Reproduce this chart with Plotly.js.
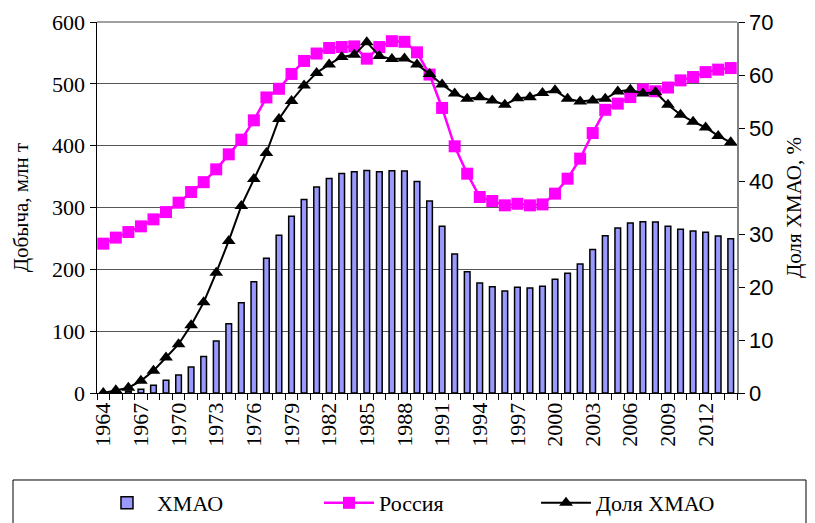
<!DOCTYPE html>
<html>
<head>
<meta charset="utf-8">
<script src="https://cdn.plot.ly/plotly-3.0.1.min.js"></script>
<style>html,body{margin:0;padding:0;background:#fff;}#chart{width:815px;height:523px;}</style>
</head>
<body>
<div id="chart"></div>
<script>
var years = [];
for (var yr = 1964; yr <= 2014; yr++) years.push(yr);

var hmaoProd = [0.2, 1, 2.8, 6, 12.5, 20.5, 29, 42, 59, 84,
  112, 146, 180, 218, 255, 286, 313, 333, 347, 355,
  358, 360, 358, 359.5, 359, 342, 310.5, 269.5, 225, 196,
  178, 172, 165, 171, 170, 172.5, 184, 193.5, 208.6, 232,
  254.5, 267, 275, 277, 276.5, 269.5, 265, 262, 260, 254, 249.6];

var russiaProd = [241.5, 251.3, 260.3, 269.5, 280.8, 292.6, 307.8, 325, 341, 361.7,
  386, 409.7, 441, 478, 492, 516, 537, 549, 558, 559.5,
  560.5, 540.7, 559.5, 569, 568, 551, 515, 461, 399, 354.7,
  317, 310.5, 303.5, 306, 303.5, 305, 322.4, 346.6, 379, 420.4,
  458, 468, 478.6, 491, 488, 494, 505.6, 511, 519, 523, 525.5];

var hmaoShare = [0, 0.5, 1.0, 2.3, 4.2, 6.7, 9.2, 12.8, 17.1, 22.7,
  28.7, 35.3, 40.4, 45.3, 51.7, 55.1, 58.0, 60.4, 62.0, 63.4,
  63.8, 66.2, 63.6, 63.0, 63.1, 62.0, 60.2, 58.2, 56.5, 55.5,
  55.8, 55.2, 54.4, 55.6, 55.8, 56.6, 57.1, 55.5, 55.0, 55.2,
  55.5, 56.9, 57.2, 56.5, 56.8, 54.4, 52.5, 51.2, 50.1, 48.5, 47.3];

var labelYears = [];
for (var ly = 1964; ly <= 2012; ly += 3) labelYears.push(ly);

var serif = 'Liberation Serif';
var sans = 'Liberation Sans';

var traces = [
  {
    type: 'bar', name: 'ХМАО', x: years, y: hmaoProd, width: 0.45, legend: 'legend',
    marker: {color: '#9999FF', line: {color: '#000000', width: 1.5}}
  },
  {
    type: 'scatter', mode: 'lines+markers', name: 'Россия', x: years, y: russiaProd, legend: 'legend2',
    line: {color: '#FF00FF', width: 2.5},
    marker: {symbol: 'square', size: 12, color: '#FF00FF'}
  },
  {
    type: 'scatter', mode: 'lines+markers', name: 'Доля ХМАО', x: years, y: hmaoShare, yaxis: 'y2', legend: 'legend3',
    line: {color: '#000000', width: 2},
    marker: {symbol: 'triangle-up', size: 12, color: '#000000'}
  }
];

function legendAt(xc) {
  return {
    orientation: 'h', xref: 'container', yref: 'container',
    x: xc, xanchor: 'left', y: 0.0382, yanchor: 'middle',
    bgcolor: 'rgba(0,0,0,0)', borderwidth: 0, itemwidth: 50,
    font: {family: serif, size: 22, color: '#000'}
  };
}

var layout = {
  width: 815, height: 523,
  margin: {l: 97, r: 78, t: 22, b: 130, autoexpand: false},
  paper_bgcolor: '#ffffff', plot_bgcolor: '#ffffff',
  font: {family: serif, size: 22, color: '#000'},
  showlegend: true,
  xaxis: {
    range: [1963.5, 2014.5],
    tickmode: 'array', tickvals: labelYears, ticktext: labelYears.map(String),
    tickangle: -90, tickfont: {family: serif, size: 22, color: '#000'},
    ticks: '', showgrid: false, zeroline: false,
    showline: true, linecolor: '#000', linewidth: 1,
    minor: {tick0: 1963.5, dtick: 1, ticks: 'outside', ticklen: 6, tickcolor: '#000', showgrid: false}
  },
  yaxis: {
    range: [0, 600], dtick: 100, tick0: 0,
    title: {text: 'Добыча, млн т', font: {family: serif, size: 21, color: '#000'}, standoff: 17},
    tickfont: {family: serif, size: 22, color: '#000'},
    ticks: 'outside', ticklen: 6, tickcolor: '#000',
    showgrid: true, gridcolor: '#555555', gridwidth: 1,
    zeroline: false, showline: true, linecolor: '#000', linewidth: 1.5
  },
  yaxis2: {
    overlaying: 'y', side: 'right',
    range: [0, 70], dtick: 10, tick0: 0,
    title: {text: 'Доля ХМАО, %', font: {family: serif, size: 21, color: '#000'}, standoff: 14},
    tickfont: {family: sans, size: 22, color: '#000'},
    ticks: 'outside', ticklen: 6, tickcolor: '#000',
    showgrid: false, zeroline: false, showline: true, linecolor: '#808080', linewidth: 1.5
  },
  legend: legendAt(0.1190),
  legend2: legendAt(0.3914),
  legend3: legendAt(0.6577),
  shapes: [
    {type: 'line', xref: 'paper', yref: 'paper', x0: 0, x1: 1, y0: 1, y1: 1,
     line: {color: '#808080', width: 1.5}},
    {type: 'rect', xref: 'paper', yref: 'paper', x0: -0.13125, x1: 1.1078, y0: -0.2345, y1: -0.5,
     line: {color: '#000', width: 1}, fillcolor: 'rgba(0,0,0,0)'}
  ]
};

Plotly.newPlot('chart', traces, layout, {displayModeBar: false, staticPlot: true});
</script>
</body>
</html>
